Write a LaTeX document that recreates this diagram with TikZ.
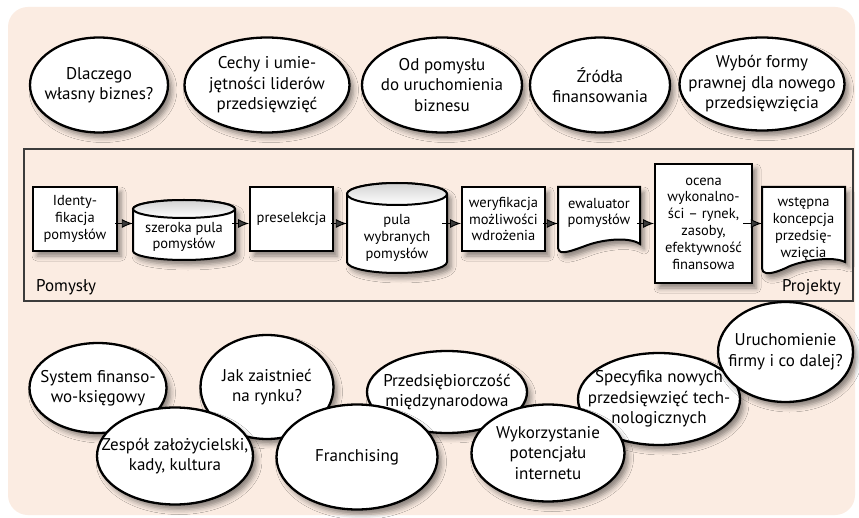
\documentclass[tikz,border=0pt]{standalone}
\usepackage{fontspec}
\setmainfont{PT Sans}
\usetikzlibrary{shapes.geometric,shadows.blur,arrows.meta,calc}
\definecolor{bgpeach}{RGB}{251,236,226}
\definecolor{framegray}{RGB}{60,60,60}
\tikzset{
  shad/.style={blur shadow={shadow xshift=4pt, shadow yshift=-5pt, shadow blur radius=5pt, shadow opacity=45}},
  bub/.style={ellipse, draw=black, line width=2.3pt, fill=white, inner sep=0pt, shad},
  lbl/.style={align=center, font=\fontsize{17}{20.5}\selectfont, inner sep=0pt},
  stepbox/.style={rectangle, draw=black, line width=2pt, fill=white, inner sep=0pt, shad,
                  align=center, font=\fontsize{14.5}{16.8}\selectfont},
  shapeline/.style={draw=black, line width=2pt, fill=white, shad},
  plain/.style={align=center, font=\fontsize{14.5}{16.8}\selectfont, inner sep=0pt},
  arr/.style={line width=0.9pt, -{Latex[length=11pt,width=9pt]}},
}
\begin{document}
\begin{tikzpicture}[x=1pt,y=1pt]
\fill[white] (0,0) rectangle (859,-518);
\useasboundingbox (0,0) rectangle (859,-518);
\fill[bgpeach, rounded corners=20pt] (8,-7) rectangle (855,-515);

% top ellipses
\node[bub, minimum width=138pt, minimum height=95pt, label={[lbl]center:Dlaczego\\własny biznes?}] (t1) at (99,-85) {};
\node[bub, minimum width=165pt, minimum height=95pt, label={[lbl]center:Cechy i umie-\\jętności liderów\\przedsięwzięć}] (t2) at (267,-85) {};
\node[bub, minimum width=160pt, minimum height=95pt, label={[lbl]center:Od pomysłu\\do uruchomienia\\biznesu}] (t3) at (442,-85) {};
\node[bub, minimum width=140pt, minimum height=95pt, label={[lbl]center:Źródła\\finansowania}] (t4) at (600,-85) {};
\node[bub, minimum width=165pt, minimum height=93pt, label={[lbl]center:Wybór formy\\prawnej dla nowego\\przedsięwzięcia}] (t5) at (762,-84) {};

% frame
\node[draw=framegray, line width=1.1pt, minimum width=829pt, minimum height=152pt, inner sep=0pt] (frame) at (438.5,-225) {};
\node[anchor=base west, font=\fontsize{17}{20}\selectfont, inner sep=0pt] (pom) at (36,-292) {Pomysły};
\node[anchor=base east, font=\fontsize{17}{20}\selectfont, inner sep=0pt] (proj) at (841,-292) {Projekty};

% flow
\coordinate (ay) at (0,-223.5);
\node[stepbox, minimum width=84pt, minimum height=64pt] (A) at (75,-219) {Identy-\\fikacja\\pomysłów};

% cylinder B
\path[shapeline] (133,-209) -- (133,-251) arc[start angle=180, end angle=360, x radius=51pt, y radius=9pt]
   -- (235,-209) arc[start angle=0, end angle=180, x radius=51pt, y radius=9pt] -- cycle;
\draw[line width=2pt, top color=gray!35, bottom color=white] (184,-209) ellipse[x radius=51pt, y radius=9pt];
\node[plain, minimum width=102pt] (B) at (184,-237) {szeroka pula\\pomysłów};

\node[stepbox, minimum width=83pt, minimum height=64pt] (C) at (291.5,-219) {preselekcja};

% cylinder D
\path[shapeline] (347,-194) -- (347,-262) arc[start angle=180, end angle=360, x radius=50pt, y radius=11pt]
   -- (447,-194) arc[start angle=0, end angle=180, x radius=50pt, y radius=11pt] -- cycle;
\draw[line width=2pt, top color=gray!35, bottom color=white] (397,-194) ellipse[x radius=50pt, y radius=11pt];
\node[plain, minimum width=100pt] (D) at (397,-238) {pula\\wybranych\\pomysłów};

\node[stepbox, minimum width=83pt, minimum height=64pt] (E) at (503.5,-219) {weryfikacja\\możliwości\\wdrożenia};

% document F
\path[shapeline] (558,-187) -- (640,-187) -- (640,-244)
   .. controls (628,-236) and (600,-240) .. (585,-246)
   .. controls (574,-250) and (566,-253) .. (561,-252)
   .. controls (559,-251) .. (558,-248) -- cycle;
\node[plain, minimum width=82pt] (F) at (599,-213) {ewaluator\\pomysłów};

\node[stepbox, minimum width=97pt, minimum height=119pt] (G) at (703.5,-223.5) {ocena\\wykonalno-\\ści – rynek,\\zasoby,\\efektywność\\finansowa};

% document H
\path[shapeline] (762,-187) -- (845,-187) -- (845,-262)
   .. controls (833,-256) and (805,-260) .. (790,-266)
   .. controls (780,-271) and (771,-274) .. (766,-273)
   .. controls (763,-272) .. (762,-268) -- cycle;
\node[plain, minimum width=83pt] (H) at (803.5,-229) {wstępna\\koncepcja\\przedsię-\\wzięcia};

\draw[arr] ($(A.east |- ay)+(-3,0)$) -- (B.west |- ay);
\draw[arr] ($(B.east |- ay)+(-3,0)$) -- (C.west |- ay);
\draw[arr] ($(C.east |- ay)+(-3,0)$) -- (D.west |- ay);
\draw[arr] ($(D.east |- ay)+(-5,0)$) -- (E.west |- ay);
\draw[arr] ($(E.east |- ay)+(-3,0)$) -- (F.west |- ay);
\draw[arr] ($(F.east |- ay)+(-3,0)$) -- (G.west |- ay);
\draw[arr] ($(G.east |- ay)+(-10,0)$) -- (H.west |- ay);

% bottom ellipses
\node[bub, minimum width=137pt, minimum height=90pt, label={[lbl]center:System finanso-\\wo-księgowy}] (b1) at (98,-388) {};
\node[bub, minimum width=133pt, minimum height=104pt, label={[lbl]center:Jak zaistnieć\\na rynku?}] (b2) at (267,-387) {};
\node[bub, minimum width=160pt, minimum height=82pt, label={[lbl]center:Przedsiębiorczość\\międzynarodowa}] (b5) at (447,-392) {};
\node[bub, minimum width=162pt, minimum height=92pt, label={[lbl]center:Specyfika nowych\\przedsięwzięć tech-\\nologicznych}] (b7) at (659,-399) {};
\node[bub, minimum width=156pt, minimum height=97pt, label={[lbl]center:Zespół założycielski,\\kady, kultura}] (b3) at (175,-456) {};
\node[bub, minimum width=161pt, minimum height=105pt, label={[lbl]center:Franchising}] (b4) at (357,-457) {};
\node[bub, minimum width=153pt, minimum height=97pt, label={[lbl]center:Wykorzystanie\\potencjału\\internetu}] (b6) at (548,-453) {};
\node[bub, minimum width=135pt, minimum height=100pt, label={[lbl]center:Uruchomienie\\firmy i co dalej?}] (b8) at (785.5,-352) {};
\end{tikzpicture}
\end{document}
